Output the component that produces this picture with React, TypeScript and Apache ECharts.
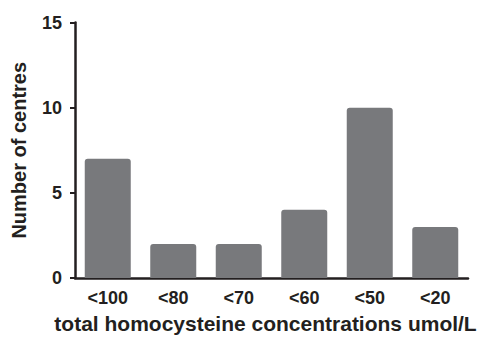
import React, { useEffect, useRef } from "react";
import * as echarts from "echarts";

const categories = ["<100", "<80", "<70", "<60", "<50", "<20"];
const centres = [7, 2, 2, 4, 10, 3];
const yTicks = [0, 5, 10, 15];

export default function App() {
  const ref = useRef<HTMLDivElement>(null);
  useEffect(() => {
    const chart = echarts.init(ref.current!, null, { renderer: "svg" });
    const dark = "#231f20";
    const font = "'Liberation Sans', Arial, Helvetica, sans-serif";
    chart.setOption({
      animation: false,
      grid: { left: 75, right: 13, top: 22.5, bottom: 55.5, containLabel: false },
      xAxis: {
        type: "category",
        data: categories,
        boundaryGap: true,
        axisLine: { lineStyle: { color: dark, width: 2.5 } },
        axisTick: { alignWithLabel: true, length: 5, lineStyle: { color: dark, width: 2 } },
        axisLabel: { color: dark, fontWeight: "bold", fontSize: 18, fontFamily: font, margin: 11 },
        name: "total homocysteine concentrations umol/L",
        nameLocation: "middle",
        nameGap: 35,
        nameTextStyle: { color: dark, fontWeight: "bold", fontSize: 21, fontFamily: font, padding: [0, 12, 0, 0] },
      },
      yAxis: {
        type: "value",
        min: yTicks[0],
        max: yTicks[yTicks.length - 1],
        interval: 5,
        splitLine: { show: false },
        axisLine: { show: true, lineStyle: { color: dark, width: 2.5 } },
        axisTick: { show: true, length: 5, lineStyle: { color: dark, width: 2 } },
        axisLabel: { color: dark, fontWeight: "bold", fontSize: 18, fontFamily: font, margin: 13 },
        name: "Number of centres",
        nameLocation: "middle",
        nameGap: 46,
        nameRotate: 90,
        nameTextStyle: { color: dark, fontWeight: "bold", fontSize: 20, fontFamily: font },
      },
      series: [
        {
          type: "bar",
          data: centres,
          barWidth: 46,
          itemStyle: { color: "#78797c", borderRadius: [3, 3, 0, 0] },
        },
      ],
    });
    return () => chart.dispose();
  }, []);
  return <div ref={ref} style={{ width: 481, height: 339, position: "absolute", left: 0, top: 0 }} />;
}
